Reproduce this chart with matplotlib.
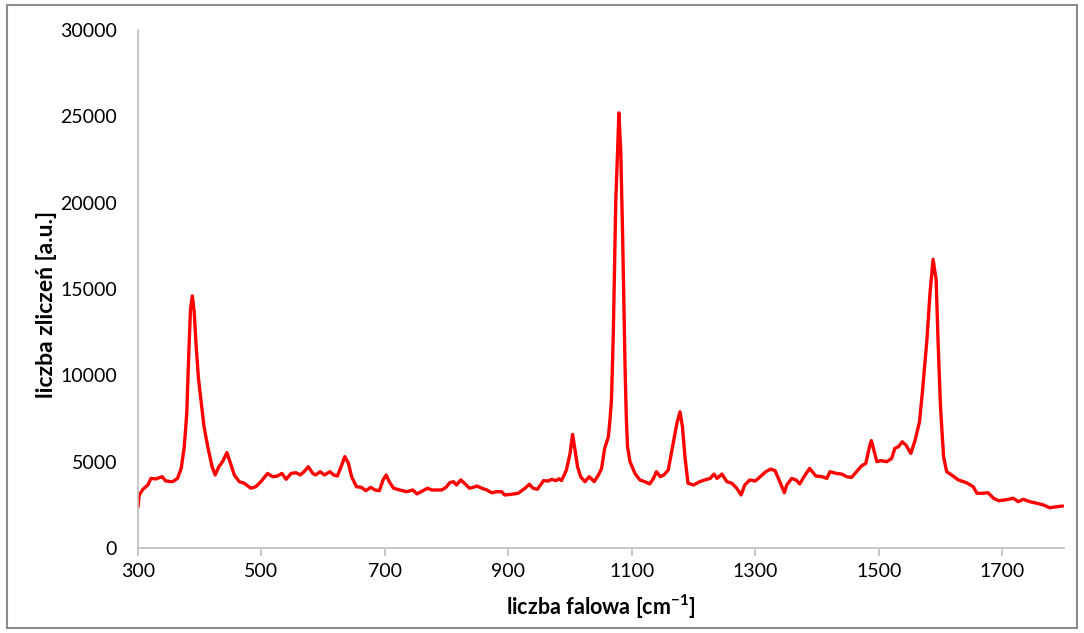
import numpy as np
import matplotlib.pyplot as plt
from matplotlib.patches import Rectangle

plt.rcParams['font.family'] = ['Lato', 'DejaVu Sans']
plt.rcParams['mathtext.fontset'] = 'custom'
plt.rcParams['mathtext.rm'] = 'Lato'
plt.rcParams['mathtext.bf'] = 'Lato:bold'

# Raman shift [cm-1] and counts
wavenumber = [300, 302, 308, 316, 321, 329, 339, 345, 356, 364, 370, 375, 379, 382, 385,
              388, 391, 394, 398, 402, 407, 413, 420, 425, 431, 437, 444, 449, 456, 464,
              472, 483, 491, 499, 510, 518, 526, 533, 540, 548, 556, 563, 569, 576, 583,
              588, 595, 602, 611, 617, 623, 630, 635, 641, 646, 654, 662, 669, 677, 684,
              691, 697, 702, 707, 714, 724, 735, 745, 752, 762, 769, 776, 784, 792, 799,
              805, 811, 816, 823, 830, 837, 843, 849, 857, 865, 873, 881, 889, 894, 905,
              916, 927, 934, 940, 947, 957, 965, 970, 977, 982, 986, 991, 994, 1000, 1004,
              1008, 1012, 1017, 1024, 1031, 1039, 1046, 1051, 1056, 1062, 1065, 1067, 1070,
              1074, 1077, 1079, 1082, 1085, 1089, 1091, 1093, 1097, 1105, 1113, 1121, 1129,
              1135, 1140, 1146, 1152, 1159, 1166, 1173, 1178, 1182, 1186, 1191, 1200, 1210,
              1218, 1227, 1233, 1238, 1246, 1254, 1262, 1270, 1277, 1283, 1291, 1300, 1308,
              1317, 1325, 1332, 1339, 1347, 1351, 1359, 1366, 1372, 1379, 1388, 1398, 1408,
              1416, 1421, 1431, 1440, 1448, 1456, 1464, 1472, 1479, 1485, 1488, 1492, 1497,
              1503, 1513, 1521, 1526, 1532, 1538, 1544, 1552, 1559, 1566, 1571, 1578, 1583,
              1588, 1593, 1596, 1600, 1605, 1610, 1618, 1629, 1642, 1653, 1659, 1669, 1677,
              1686, 1694, 1704, 1718, 1726, 1734, 1745, 1756, 1767, 1777, 1788, 1798]
counts = [2390, 3070, 3400, 3650, 4030, 4000, 4130, 3880, 3840, 4030, 4610, 5870, 7800, 11000, 13800,
          14600, 13700, 11800, 9800, 8570, 7020, 5870, 4710, 4230, 4710, 5000, 5520, 5000, 4230, 3840,
          3750, 3460, 3550, 3840, 4320, 4130, 4170, 4320, 3980, 4320, 4360, 4230, 4420, 4710, 4320,
          4230, 4420, 4230, 4420, 4230, 4170, 4800, 5290, 4900, 4130, 3550, 3510, 3320, 3510, 3360,
          3320, 3940, 4230, 3840, 3460, 3360, 3260, 3360, 3130, 3320, 3460, 3360, 3360, 3360, 3510,
          3780, 3840, 3650, 3940, 3710, 3460, 3510, 3590, 3460, 3360, 3200, 3260, 3260, 3070, 3110,
          3170, 3460, 3690, 3460, 3400, 3900, 3880, 3980, 3900, 4010, 3900, 4270, 4520, 5480, 6580,
          5670, 4710, 4130, 3840, 4130, 3840, 4230, 4610, 5770, 6440, 7600, 8570, 12440,
          20150, 23050, 25200, 23050, 18240, 10500, 7600, 5870, 5000, 4320, 3940, 3840, 3710,
          4030, 4420, 4130, 4230, 4520, 5870, 7220, 7890, 7020, 5290, 3750, 3650, 3840,
          3940, 4030, 4280, 4030, 4280, 3840, 3750, 3460, 3070, 3650, 3940, 3880, 4130,
          4420, 4570, 4480, 3900, 3200, 3650, 4030, 3940, 3710, 4130, 4610, 4170, 4130,
          4030, 4420, 4320, 4280, 4130, 4090, 4420, 4750, 4900, 5870, 6220, 5670, 5000,
          5060, 5000, 5190, 5770, 5870, 6150, 5960, 5480, 6250, 7310, 9150, 12040, 14750,
          16720, 15520, 12040, 8180, 5290, 4420, 4230, 3940, 3780, 3550, 3170, 3170, 3200,
          2880, 2740, 2780, 2880, 2680, 2820, 2680, 2590, 2490, 2330, 2390, 2430]

fig = plt.figure(figsize=(10.84, 6.33), dpi=100)
ax = fig.add_axes([0.1273, 0.1343, 0.8542, 0.8183])
ax.plot(wavenumber, counts, color='#FF0000', linewidth=2.4,
        solid_joinstyle='round', solid_capstyle='round')

ax.set_xlim(300, 1800)
ax.set_ylim(0, 30000)
ax.set_xticks(np.arange(300, 1800, 200))
ax.set_yticks(np.arange(0, 30001, 5000))

for side in ['top', 'right']:
    ax.spines[side].set_visible(False)
for side in ['left', 'bottom']:
    ax.spines[side].set_color('#BFBFBF')
    ax.spines[side].set_linewidth(1.2)
ax.tick_params(axis='x', direction='out', length=6, width=1.2, color='#BFBFBF',
               labelsize=14, pad=5)
ax.tick_params(axis='y', length=0, labelsize=14, pad=15)

ax.set_xlabel(r'liczba falowa [cm$^{\mathbf{-1}}$]', fontsize=15.5, fontweight='bold', labelpad=9)
ax.set_ylabel('liczba zliczeń [a.u.]', fontsize=16.5, fontweight='bold')
ax.yaxis.set_label_coords(-0.087, 0.47)

fig.patches.append(Rectangle((0.006, 0.008), 0.988, 0.984, transform=fig.transFigure,
                             fill=False, edgecolor='#8C8C8C', linewidth=1.5))

fig.savefig('out.png', dpi=100)
